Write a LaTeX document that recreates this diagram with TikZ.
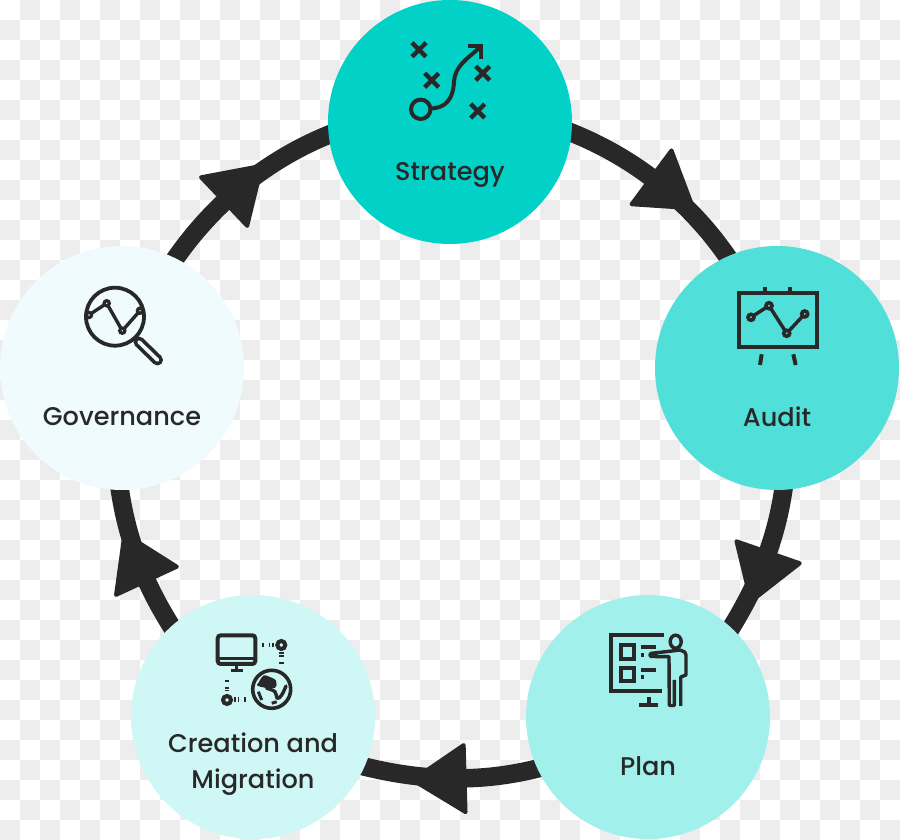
\documentclass[tikz,border=0pt]{standalone}
\usepackage{fontspec}
\newfontfamily\cyclefont{Poppins}[UprightFont=* Medium]
\usetikzlibrary{decorations.markings}
\definecolor{ink}{HTML}{282828}
\definecolor{checkgrey}{HTML}{EDEDED}
\definecolor{toneA}{HTML}{01D1C6}
\definecolor{toneB}{HTML}{51E0D9}
\definecolor{toneC}{HTML}{A1F0EB}
\definecolor{toneD}{HTML}{CFF7F5}
\definecolor{toneE}{HTML}{EFFBFD}
\pgfdeclarelayer{checks}
\pgfdeclarelayer{links}
\pgfsetlayers{checks,links,main}
\tikzset{
  x=1pt,y=1pt,
  disc/.style={circle,minimum size=244pt,inner sep=0pt,outer sep=0pt,fill=#1},
  caption/.style={text=ink,font=\cyclefont\fontsize{25.6}{25.6}\selectfont,inner sep=0pt,anchor=center},
  link/.style={draw=ink,line width=18.5pt,looseness=0.866,shorten <=-4pt,shorten >=-4pt},
  head pos/.style={postaction={decorate},decoration={markings,mark=at position #1 with {
    \path[fill=ink,draw=ink,line width=4pt,line join=round] (2,33.5)--(2,-33.5)--(54,0)--cycle;}}},
  icon/.style={draw=ink,line width=4pt,line cap=butt,line join=miter},
  pixels/.style={yshift=840pt,y=-1pt},
}
\begin{document}
\begin{tikzpicture}
\useasboundingbox (0,0) rectangle (900,840);

% checkered backdrop
\begin{pgfonlayer}{checks}
  \fill[white] (0,0) rectangle (900,840);
  \begin{scope}[pixels]
    \foreach \row in {0,...,41}{
      \foreach \col in {0,...,44}{
        \ifodd\numexpr\row+\col\relax
          \fill[checkgrey] (20*\col,20*\row) rectangle ++(20,20);
        \fi
      }
    }
  \end{scope}
\end{pgfonlayer}

% the five stages
\node[disc=toneA] (strategy)   at (450,718) {};
\node[disc=toneB] (audit)      at (777,472) {};
\node[disc=toneC] (plan)       at (648,123) {};
\node[disc=toneD] (creation)   at (253,123) {};
\node[disc=toneE] (governance) at (122,472) {};

\node[caption] (strategytext)   at (450,665) {Strategy};
\node[caption] (audittext)      at (777,423) {Audit};
\node[caption] (plantext)       at (648,74)  {Plan};
\node[caption,align=center] (creationtext) at (253,76)
  {Creation and\\[10pt]Migration};
\node[caption] (governancetext) at (122,423) {Governance};

% ring of connectors behind the discs
\begin{pgfonlayer}{links}
  \draw[link,head pos=0.445] (strategy.-5.6) to[out=-21.4,in=124.2] (audit.114.2);
  \draw[link,head pos=0.42]  (audit.-87.7) to[out=-97.7,in=58] (plan.47.2);
  \draw[link,head pos=0.41]  (plan.205.1) to[out=-165.3,in=-14.3] (creation.-24.9);
  \draw[link,head pos=0.34]  (creation.132) to[out=122.7,in=-82.3] (governance.-91.9);
  \draw[link,head pos=0.365] (governance.64.5) to[out=55.6,in=-158.4] (strategy.186);
\end{pgfonlayer}

% strategy icon: play diagram
\begin{scope}[pixels]
  \foreach \cx/\cy in {419/49.7,431.7/80.3,482.7/73.3,477.7/111}
    \draw[icon,line width=4.4pt] (\cx-7,\cy-7) -- (\cx+7,\cy+7) (\cx-7,\cy+7) -- (\cx+7,\cy-7);
  \draw[icon] (420.7,109.3) circle[radius=9.7];
  \draw[icon] (430.5,108.5) .. controls (446,108) and (453,99) .. (454,82)
     .. controls (455,66) and (466,60) .. (479,48);
  \draw[icon] (468.3,46.5) -- (481,46.5) -- (481,59.3);
\end{scope}

% audit icon: chart on an easel
\begin{scope}[pixels]
  \draw[icon] (738.7,292.7) rectangle (817.3,347.3);
  \draw[icon] (765,287.3) -- (765,291) (790,287.3) -- (790,291);
  \draw[icon] (761.7,354.3) -- (760,365) (793.3,354.3) -- (795.7,365);
  \draw[icon,line width=3.5pt] (751,317.3) -- (769,305.7) -- (786.7,333.3) -- (804.7,314);
  \foreach \cx/\cy in {751/317.3,769/305.7,786.7/333.3,804.7/314}
    \draw[icon,line width=3.6pt,fill=toneB] (\cx,\cy) circle[radius=3];
\end{scope}

% plan icon: presenter at a board
\begin{scope}[pixels]
  \draw[icon] (664,635.3) -- (610.7,635.3) -- (610.7,690.7) -- (661.7,690.7);
  \draw[icon] (620.7,645) rectangle (634.3,659);
  \draw[icon] (620.7,667.7) rectangle (634.3,681.3);
  \draw[icon] (640.7,647.3) -- (655.7,647.3) (640.7,654.7) -- (643.7,654.7);
  \draw[icon] (640.7,670) -- (655.7,670) (640.7,677.3) -- (643.7,677.3);
  \draw[icon] (639,705) -- (657.7,705) (649,697.3) -- (649,705);
  \draw[icon,line width=3.4pt] (675.7,641.7) ellipse[x radius=5.5,y radius=6.5];
  \draw[icon,line width=3.4pt,line join=round]
    (650,653.5) -- (672,651) -- (680,650) -- (684.7,652) -- (686,655) -- (686,675)
    -- (680.7,677) -- (680.7,706);
  \draw[icon,line width=3.4pt,line join=round]
    (650,656.5) -- (669,656.7) -- (669.3,705.5) -- (674.3,705.5) -- (674.3,680);
  \draw[ink,line width=5.5pt,line cap=round] (651,655) -- (655,655);
\end{scope}

% creation icon: monitor, globe and dotted links
\begin{scope}[pixels]
  \draw[icon,rounded corners=3pt] (217.7,635.3) rectangle (255.3,664);
  \draw[icon,line width=3pt] (217.7,658.3) -- (255.3,658.3);
  \draw[icon,line width=3pt] (236.7,665) -- (236.7,670.7) (230.7,670.7) -- (242.7,670.7);
  \draw[icon] (281.3,645) circle[radius=4];
  \draw[icon] (227,700) circle[radius=4];
  \foreach \px in {262.7,269.3,272.7}
    \draw[icon,line width=1.6pt] (\px,643) -- (\px,647);
  \foreach \py in {653.3,656,663.3}
    \draw[icon,line width=1.6pt] (279,\py) -- (283.6,\py);
  \foreach \py in {681.3,688,690.7}
    \draw[icon,line width=1.6pt] (224.7,\py) -- (229.3,\py);
  \foreach \px in {235,238.3,245}
    \draw[icon,line width=1.6pt] (\px,697.3) -- (\px,701.7);
  \draw[icon,line width=3.6pt] (271.7,689.3) circle[radius=19];
  \fill[ink] plot[smooth cycle,tension=0.6] coordinates
    {(258.5,682.7) (263.3,675.7) (268.3,676.3) (276,680.7) (275,687.7) (265,687.7) (257.3,685.5)};
  \draw[icon,line width=3.4pt,line cap=round,line join=round]
    plot[smooth,tension=0.7] coordinates {(266.7,688.3) (275,691.7) (277.3,698.3) (281.7,695) (286,686)};
  \draw[icon,line width=3pt] (258.3,691.7) -- (261.7,700);
  \draw[icon,line width=3pt] (271.7,703.3) -- (276.7,701.7);
\end{scope}

% governance icon: chart under a magnifier
\begin{scope}[pixels]
  \draw[ink,line width=11pt,line cap=round] (139,342) -- (157.5,360);
  \draw[toneE,line width=3.6pt,line cap=round] (139,342) -- (157.5,360);
  \draw[icon,line width=3.8pt] (115,316.7) circle[radius=29];
  \draw[icon,line width=3.4pt] (89,315) -- (106.7,303.3) -- (122.3,330.7) -- (140,310.7);
  \foreach \cx/\cy in {89/315,106.7/303.3,122.3/330.7,140/310.7}
    \draw[icon,line width=3.2pt,fill=toneE] (\cx,\cy) circle[radius=2.6];
\end{scope}
\end{tikzpicture}
\end{document}
